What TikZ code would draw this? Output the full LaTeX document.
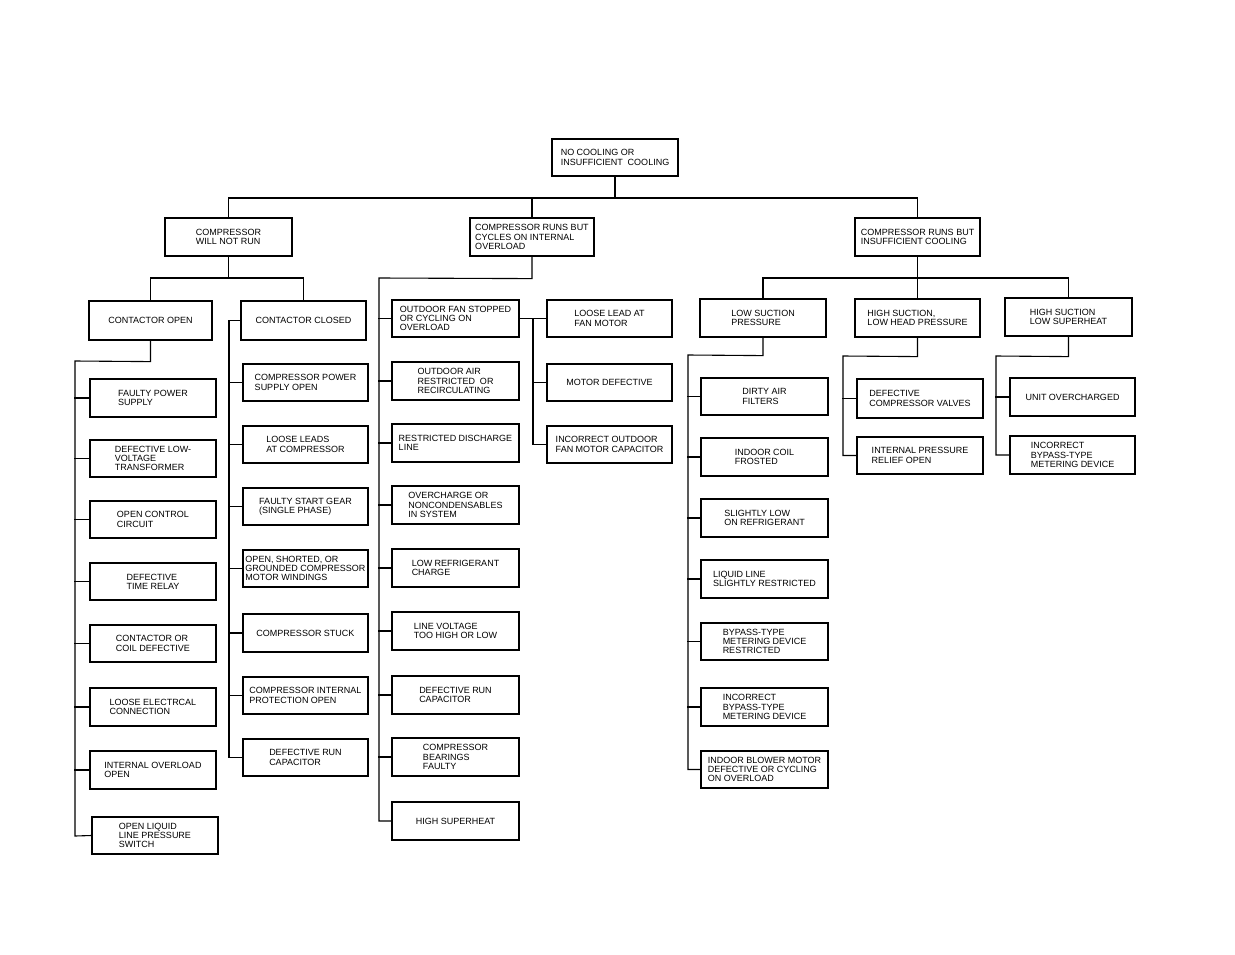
\documentclass[tikz,border=0pt]{standalone}
\usepackage{fontspec}
\setmainfont{Liberation Sans}
\begin{document}
\begin{tikzpicture}[x=1pt,y=1pt,line width=1.1pt,
  bx/.style={draw,line width=1.2pt,inner sep=1pt,align=left,font=\fontsize{9}{9.3}\selectfont}]
\useasboundingbox (0,0) rectangle (1235,-954);
\newcommand\bx[6]{\node[bx,minimum width={(#4-#2)*1pt},minimum height={(#5-#3)*1pt}] (#1) at ({(#2+#4)/2},{-(#3+#5)/2}) {#6};}
% level 0/1
\bx{root}{552}{139}{678}{176}{NO COOLING OR\\INSUFFICIENT\ \ COOLING}
\bx{cwnr}{165}{218}{292}{256}{COMPRESSOR\\WILL NOT RUN}
\bx{crbc}{470}{218}{594}{256}{COMPRESSOR RUNS BUT\\CYCLES ON INTERNAL\\OVERLOAD}
\bx{crbi}{855}{218}{980}{256}{COMPRESSOR RUNS BUT\\INSUFFICIENT COOLING}
\coordinate (b0) at (0,-198);
\draw (root.south) -- (root.south|-b0);
\draw (cwnr.north) -- (cwnr.north|-b0) -- (crbi.north|-b0) -- (crbi.north);
\draw (crbc.north) -- (crbc.north|-b0);
% compressor will not run
\bx{co}{89}{301}{212}{340}{CONTACTOR OPEN}
\bx{cc}{241}{301}{366}{340}{CONTACTOR CLOSED}
\coordinate (b1) at (0,-278);
\draw (cwnr.south) -- (cwnr.south|-b1);
\draw (co.north) -- (co.north|-b1) -- (cc.north|-b1) -- (cc.north);
\bx{o1}{90}{379}{216}{417}{FAULTY POWER\\SUPPLY}
\bx{o2}{90}{440}{216}{477}{DEFECTIVE LOW-\\VOLTAGE\\TRANSFORMER}
\bx{o3}{90}{501}{216}{538}{OPEN CONTROL\\CIRCUIT}
\bx{o4}{90}{563}{216}{600}{DEFECTIVE\\TIME RELAY}
\bx{o5}{90}{625}{216}{662}{CONTACTOR OR\\COIL DEFECTIVE}
\bx{o6}{90}{688}{216}{726}{LOOSE ELECTRCAL\\CONNECTION}
\bx{o7}{90}{751}{216}{789}{INTERNAL OVERLOAD\\OPEN}
\bx{o8}{92}{817}{218}{854}{OPEN LIQUID\\LINE PRESSURE\\SWITCH}
\draw (co.south) -- ++(0,-21) -- (75,-361) -- (75,-836) -- (o8.west);
\foreach \n in {o1,o2,o3,o4,o5,o6,o7} \draw (\n.west) -- ++(-15,0);
\bx{c1}{243}{364}{368}{401}{COMPRESSOR POWER\\SUPPLY OPEN}
\bx{c2}{243}{426}{368}{463}{LOOSE LEADS\\AT COMPRESSOR}
\bx{c3}{243}{488}{368}{525}{FAULTY START GEAR\\(SINGLE PHASE)}
\bx{c4}{243}{550}{368}{587}{OPEN, SHORTED, OR\\GROUNDED COMPRESSOR\\MOTOR WINDINGS}
\bx{c5}{243}{614}{368}{652}{COMPRESSOR STUCK}
\bx{c6}{243}{677}{368}{714}{COMPRESSOR INTERNAL\\PROTECTION OPEN}
\bx{c7}{243}{739}{368}{776}{DEFECTIVE RUN\\CAPACITOR}
\draw (cc.west) -- (229,-320.5) -- (229,-757.5) -- (c7.west);
\foreach \n in {c1,c2,c3,c4,c5,c6} \draw (\n.west) -- ++(-14,0);
% compressor runs but cycles
\bx{r1}{392}{300}{519}{337}{OUTDOOR FAN STOPPED\\OR CYCLING ON\\OVERLOAD}
\bx{r2}{392}{362}{519}{400}{OUTDOOR AIR\\RESTRICTED\ \ OR\\RECIRCULATING}
\bx{r3}{392}{424}{519}{462}{RESTRICTED DISCHARGE\\LINE}
\bx{r4}{392}{486}{519}{524}{OVERCHARGE OR\\NONCONDENSABLES\\IN SYSTEM}
\bx{r5}{392}{549}{519}{587}{LOW REFRIGERANT\\CHARGE}
\bx{r6}{392}{612}{519}{650}{LINE VOLTAGE\\TOO HIGH OR LOW}
\bx{r7}{392}{676}{519}{714}{DEFECTIVE RUN\\CAPACITOR}
\bx{r8}{392}{738}{519}{776}{COMPRESSOR\\BEARINGS\\FAULTY}
\bx{r9}{392}{802}{519}{840}{HIGH SUPERHEAT}
\draw (crbc.south) -- ++(0,-22) -- (379,-278) -- (379,-821) -- (r9.west);
\foreach \n in {r1,r2,r3,r4,r5,r6,r7,r8} \draw (\n.west) -- ++(-13,0);
\bx{f1}{547}{300}{672}{337}{LOOSE LEAD AT\\FAN MOTOR}
\bx{f2}{547}{364}{672}{401}{MOTOR DEFECTIVE}
\bx{f3}{547}{426}{672}{463}{INCORRECT OUTDOOR\\FAN MOTOR CAPACITOR}
\draw (r1.east) -- (f1.west);
\draw (533,-318.5) -- (533,-444.5) -- (f3.west);
\draw (f2.west) -- ++(-14,0);
% compressor runs but insufficient cooling
\bx{ls}{700}{299}{826}{337}{LOW SUCTION\\PRESSURE}
\bx{hl}{855}{299}{980}{337}{HIGH SUCTION,\\LOW HEAD PRESSURE}
\bx{hs}{1005}{298}{1132}{336}{HIGH SUCTION\\LOW SUPERHEAT}
\draw (crbi.south) -- (crbi.south|-b1);
\draw (ls.north) -- (ls.north|-b1) -- (hs.north|-b1) -- (hs.north);
\draw (hl.north) -- (hl.north|-b1);
\bx{l1}{701}{378}{828}{415}{DIRTY AIR\\FILTERS}
\bx{l2}{701}{438}{828}{476}{INDOOR COIL\\FROSTED}
\bx{l3}{701}{499}{828}{537}{SLIGHTLY LOW\\ON REFRIGERANT}
\bx{l4}{701}{560}{828}{598}{LIQUID LINE\\SLIGHTLY RESTRICTED}
\bx{l5}{701}{623}{828}{660}{BYPASS-TYPE\\METERING DEVICE\\RESTRICTED}
\bx{l6}{701}{688}{828}{726}{INCORRECT\\BYPASS-TYPE\\METERING DEVICE}
\bx{l7}{701}{751}{828}{788}{INDOOR BLOWER MOTOR\\DEFECTIVE OR CYCLING\\ON OVERLOAD}
\draw (ls.south) -- ++(0,-18) -- (688,-355) -- (688,-769.5) -- (l7.west);
\foreach \n in {l1,l2,l3,l4,l5,l6} \draw (\n.west) -- ++(-13,0);
\bx{h1}{857}{379}{983}{418}{DEFECTIVE\\COMPRESSOR VALVES}
\bx{h2}{857}{437}{983}{474}{INTERNAL PRESSURE\\RELIEF OPEN}
\draw (hl.south) -- ++(0,-19) -- (843,-356) -- (843,-455.5) -- (h2.west);
\draw (h1.west) -- ++(-14,0);
\bx{s1}{1010}{378}{1135}{416}{UNIT OVERCHARGED}
\bx{s2}{1010}{436}{1135}{474}{INCORRECT\\BYPASS-TYPE\\METERING DEVICE}
\draw (hs.south) -- ++(0,-20) -- (996,-356) -- (996,-455) -- (s2.west);
\draw (s1.west) -- ++(-14,0);
\end{tikzpicture}
\end{document}
